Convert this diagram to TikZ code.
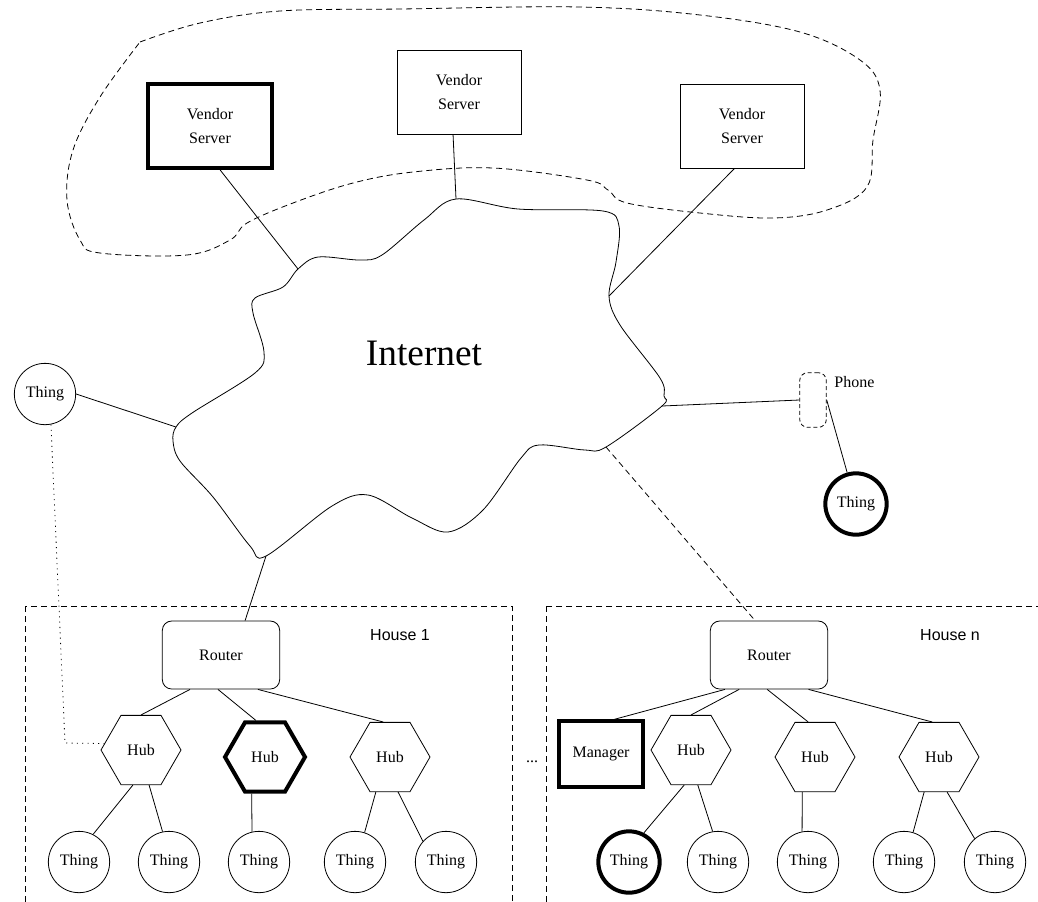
\documentclass[tikz,border=0pt]{standalone}
\usepackage{fontspec}
\setmainfont{Liberation Serif}
\newfontfamily\labelsans{Liberation Sans}
\usetikzlibrary{shapes.geometric}

\begin{document}
\begin{tikzpicture}[x=0.75pt,y=-0.75pt,line width=0.6pt,
  every node/.style={font=\fontsize{12}{14}\selectfont},
  server/.style={draw,rectangle,minimum width=93pt,minimum height=63pt,align=center,font=\fontsize{12}{18}\selectfont},
  router/.style={draw,rectangle,rounded corners=7pt,minimum width=88pt,minimum height=51pt},
  hub/.style={draw,regular polygon,regular polygon sides=6,minimum size=60pt,inner sep=0pt},
  thing/.style={draw,circle,minimum size=46pt,inner sep=0pt},
  manager/.style={draw,rectangle,minimum width=63pt,minimum height=49pt},
  heavy/.style={line width=3pt},
  arealine/.style={dash pattern=on 4.5pt off 3pt},
  dotline/.style={dash pattern=on 0.8pt off 3.2pt}]
\clip (0,0) rectangle (1038,901);
% vendor servers
\node[server,heavy] (vs1) at (210,126) {Vendor\\Server};
\node[server] (vs2) at (459,92) {Vendor\\Server};
\node[server] (vs3) at (742,126) {Vendor\\Server};
\draw[arealine] plot[smooth,tension=0.6] coordinates {(140,42) (200,23) (280,11) (400,9) (580,7) (700,15) (800,32) (860,60) (880,90) (873,140) (867,187) (827,210) (773,218) (700,213) (627,203) (608,190) (587,180) (493,168) (413,172) (353,183) (293,203) (247,223) (230,240) (187,255) (100,253) (80,240) (67,200) (73,150) (100,97) (140,42)};
% internet
\coordinate (netVS1) at (298,269);
\coordinate (netVS2) at (456,199);
\coordinate (netVS3) at (609,296);
\coordinate (netPhone) at (662,406);
\coordinate (netHn) at (606,447);
\coordinate (netH1) at (266,556);
\coordinate (netThing) at (176,427);
\draw plot[smooth cycle,tension=0.55] coordinates {(netVS2) (518,209) (603,211) (619,226) (616,262) (netVS3) (620,325) (660,378) (664,396) (netPhone) (netHn) (585,450) (539,445) (521,458) (483,510) (448,532) (412,518) (368,495) (332,506) (netH1) (250,546) (213,497) (180,461) (173,441) (netThing) (192,413) (255,373) (264,352) (253,313) (255,298) (283,287) (netVS1) (318,257) (360,260) (382,255) (424,220)};
\node[font=\fontsize{28}{32}\selectfont] (net) at (424,353) {Internet};
\draw (vs1.283) -- (netVS1);
\draw (vs2.262) -- (netVS2);
\draw (vs3.260) -- (netVS3);
% outside things
\node[thing] (thL) at (45,394) {Thing};
\draw (thL.east) -- (netThing);
\node[draw,dash pattern=on 3pt off 2pt,rounded corners=6pt,minimum width=20pt,minimum height=41pt] (phone) at (813,400) {};
\node[anchor=west,inner sep=0pt] (phonelbl) at (834,382) {Phone};
\node[thing,heavy] (thP) at (856,504) {Thing};
\draw (netPhone) -- (phone.west);
\draw (phone.east) -- (thP);
% house 1
\draw[arealine] (25,606) rectangle (512,915);
\node[font=\labelsans\fontsize{12}{14}\selectfont] (h1lbl) at (400,635) {House 1};
\node[router] (r1) at (221,655) {Router};
\node[hub] (h1) at (141,750) {Hub};
\node[hub,heavy] (h2) at (265,757) {Hub};
\node[hub] (h3) at (390,757) {Hub};
\node[thing] (t1) at (79,862) {Thing};
\node[thing] (t2) at (169,862) {Thing};
\node[thing] (t3) at (259,862) {Thing};
\node[thing] (t4) at (355,862) {Thing};
\node[thing] (t5) at (446,862) {Thing};
\draw (netH1) -- (r1.55);
\draw (r1.228) -- (h1.north);
\draw (r1.265) -- (h2.104);
\draw (r1.317) -- (h3.101);
\draw (h1.257) -- (t1.63);
\draw (h1.283) -- (t2.102);
\draw (h2.250) -- (t3.103);
\draw (h3.248) -- (t4.72);
\draw (h3.283) -- (t5.138);
\coordinate (dotbend) at (65,743);
\draw[dotline] (thL.281) -- (dotbend) -- (h1.170);
\node (dots) at (532,762) {...};
% house n
\draw[arealine] (546,606) rectangle (1050,915);
\node[font=\labelsans\fontsize{12}{14}\selectfont] (hnlbl) at (950,635) {House n};
\node[router] (rn) at (769,655) {Router};
\node[manager,heavy] (mg) at (601,754) {Manager};
\node[hub] (ha) at (691,750) {Hub};
\node[hub] (hb) at (815,757) {Hub};
\node[hub] (hc) at (939,757) {Hub};
\node[thing,heavy] (tn1) at (629,862) {Thing};
\node[thing] (tn2) at (718,862) {Thing};
\node[thing] (tn3) at (808,862) {Thing};
\node[thing] (tn4) at (904,862) {Thing};
\node[thing] (tn5) at (995,862) {Thing};
\draw[arealine] (netHn) -- (rn.112);
\draw (rn.218) -- (mg.69);
\draw (rn.229) -- (ha.north);
\draw (rn.267) -- (hb.101);
\draw (rn.319) -- (hc.101);
\draw (ha.259) -- (tn1.63);
\draw (ha.281) -- (tn2.100);
\draw (hb.250) -- (tn3.101);
\draw (hc.247) -- (tn4.73);
\draw (hc.283) -- (tn5.131);
\end{tikzpicture}
\end{document}
